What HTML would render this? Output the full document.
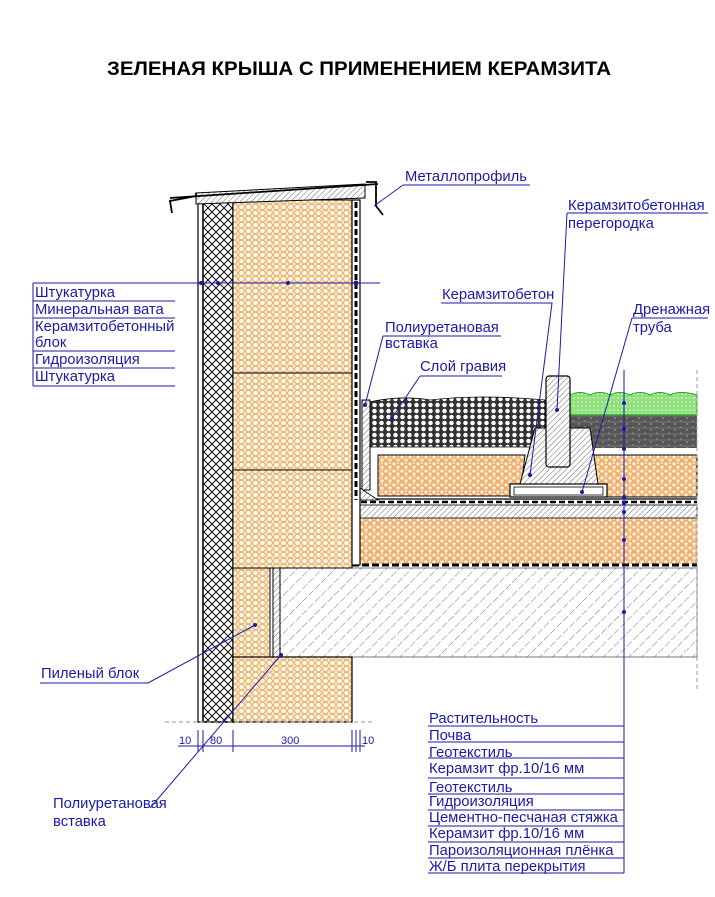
<!DOCTYPE html>
<html><head><meta charset="utf-8"><style>
html,body{margin:0;padding:0;background:#fff;}
svg{display:block;}
text{font-family:"Liberation Sans","DejaVu Sans",sans-serif;}
.b{fill:#1a1aa8;font-size:14.8px;}
.l{stroke:#1a1aa8;stroke-width:1;fill:none;}
</style></head><body>
<svg width="715" height="897" viewBox="0 0 715 897" xmlns="http://www.w3.org/2000/svg">
<defs>
<pattern id="hc" width="7" height="6" patternUnits="userSpaceOnUse">
<rect width="7" height="6" fill="#fbe7c6"/>
<circle cx="3.5" cy="3" r="2.8" fill="#fff7ea" stroke="#e0a050" stroke-width="0.8"/>
</pattern>
<pattern id="kz" width="8" height="7" patternUnits="userSpaceOnUse">
<rect width="8" height="7" fill="#eeb070"/>
<circle cx="2" cy="2" r="1.6" fill="#fff3df"/>
<circle cx="6" cy="5" r="1.8" fill="#fde8c8"/>
<circle cx="6" cy="1" r="0.8" fill="#fff"/>
</pattern>
<pattern id="cross" width="8" height="8" patternUnits="userSpaceOnUse">
<rect width="8" height="8" fill="#fff"/>
<path d="M0 0L8 8M8 0L0 8" stroke="#111" stroke-width="1"/>
</pattern>
<pattern id="hatch" width="9" height="9" patternUnits="userSpaceOnUse" patternTransform="rotate(45)">
<rect width="9" height="9" fill="#fff"/>
<line x1="0" y1="0" x2="0" y2="9" stroke="#555" stroke-width="0.8" stroke-dasharray="5 2"/>
</pattern>
<pattern id="hatch2" width="4" height="4" patternUnits="userSpaceOnUse" patternTransform="rotate(45)">
<rect width="4" height="4" fill="#fff"/>
<line x1="0" y1="0" x2="0" y2="4" stroke="#444" stroke-width="0.8"/>
</pattern>
<pattern id="grav" width="7" height="6" patternUnits="userSpaceOnUse">
<rect width="7" height="6" fill="#333"/>
<circle cx="3.5" cy="3" r="2.6" fill="#fff" stroke="#222" stroke-width="0.6"/>
</pattern>
<pattern id="soil" width="12" height="6" patternUnits="userSpaceOnUse">
<rect width="12" height="6" fill="#555"/>
<line x1="0" y1="2" x2="12" y2="2" stroke="#888" stroke-width="0.6"/>
<circle cx="3" cy="4" r="0.6" fill="#ddd"/><circle cx="9" cy="1" r="0.5" fill="#ddd"/>
</pattern>
<pattern id="veg" width="4" height="4" patternUnits="userSpaceOnUse">
<rect width="4" height="4" fill="#8ee07a"/>
<circle cx="2" cy="2" r="1" fill="#c8f0b8"/>
</pattern>
</defs>

<text x="107" y="75" textLength="504" lengthAdjust="spacingAndGlyphs" font-size="19.5" font-weight="bold" fill="#000">ЗЕЛЕНАЯ КРЫША С ПРИМЕНЕНИЕМ КЕРАМЗИТА</text>

<!-- slab -->
<rect x="280" y="568" width="417" height="89" fill="url(#hatch)" stroke="#555" stroke-width="0.8"/>
<!-- lower keramzit -->
<rect x="352" y="518" width="345" height="46" fill="url(#kz)"/>
<line x1="352" y1="565" x2="697" y2="565" stroke="#000" stroke-width="3" stroke-dasharray="7 3"/>
<!-- screed -->
<rect x="352" y="505" width="345" height="13" fill="url(#hatch2)" stroke="#000" stroke-width="0.8"/>
<line x1="352" y1="502" x2="697" y2="502" stroke="#000" stroke-width="2.5" stroke-dasharray="6 3"/>
<!-- upper keramzit -->
<path d="M378 455 H525 L520 496 H378 Z" fill="url(#kz)" stroke="#000" stroke-width="1"/>
<rect x="593" y="455" width="104" height="42" fill="url(#kz)" stroke="#000" stroke-width="1"/>
<line x1="370" y1="499" x2="697" y2="499" stroke="#000" stroke-width="1.2"/>
<!-- corner gravel & PU vertical -->
<rect x="362" y="400" width="8" height="90" fill="url(#hatch2)" stroke="#000"/>
<path d="M360 488 L378 500 L360 500Z" fill="url(#hatch2)" stroke="#000" stroke-width="0.8"/>
<path d="M370 402 Q400 395 430 400 Q480 394 545 400 L545 447 L370 447Z" fill="url(#grav)" stroke="#000" stroke-width="0.8"/>
<!-- soil, veg -->
<rect x="570" y="415" width="127" height="33" fill="url(#soil)"/>
<path d="M570 395 Q580 390 590 395 Q600 390 610 395 Q620 390 630 395 Q640 390 650 395 Q660 390 670 395 Q680 390 697 395 V415 H570Z" fill="url(#veg)" stroke="#2ca02c" stroke-width="1"/>
<line x1="570" y1="415" x2="697" y2="415" stroke="#2ca02c" stroke-width="1.5"/>
<!-- foot & partition -->
<path d="M535 428 L590 428 L598 484 L520 484 Z" fill="url(#hatch2)" stroke="#000" stroke-width="1"/>
<rect x="546" y="376" width="24" height="91" rx="3" fill="url(#hatch2)" stroke="#000" stroke-width="1.2"/>
<rect x="510" y="484" width="97" height="13" fill="#fff" stroke="#000" stroke-width="1.2"/>
<rect x="514" y="487" width="89" height="8" fill="#fff" stroke="#000" stroke-width="0.8"/>

<!-- wall -->
<rect x="198" y="200" width="5" height="522" fill="#fff" stroke="#000" stroke-width="1.2"/>
<rect x="203" y="200" width="30" height="522" fill="url(#cross)" stroke="#000" stroke-width="1.5"/>
<rect x="233" y="200" width="119" height="368" fill="url(#hc)" stroke="#000" stroke-width="1"/>
<rect x="233" y="568" width="37" height="89" fill="url(#hc)" stroke="#000" stroke-width="1"/>
<rect x="273" y="568" width="7" height="89" fill="url(#hatch2)" stroke="#000" stroke-width="1"/>
<rect x="233" y="657" width="119" height="65" fill="url(#hc)" stroke="#000" stroke-width="1.2"/>
<g stroke="#000" stroke-width="1"><line x1="233" y1="283" x2="352" y2="283"/><line x1="233" y1="373" x2="352" y2="373"/><line x1="233" y1="470" x2="352" y2="470"/></g>
<rect x="352" y="200" width="8" height="365" fill="#fff" stroke="#000" stroke-width="1.2"/>
<line x1="356" y1="202" x2="356" y2="500" stroke="#000" stroke-width="3" stroke-dasharray="6 3"/>
<!-- cap -->
<path d="M196 193 L365 184 L365 198 L196 204Z" fill="url(#hatch2)" stroke="#000"/>
<path d="M172 213 L170 201 L196 196 L196 193 M366 182 L376 182 L376 206 L383 215" fill="none" stroke="#000" stroke-width="1.8"/>
<path d="M170 198 L378 184" stroke="#000" stroke-width="1.8"/>
<!-- dashed ground lines -->
<line x1="165" y1="722" x2="375" y2="722" stroke="#999" stroke-dasharray="4 3"/>
<line x1="697" y1="370" x2="697" y2="690" stroke="#999" stroke-dasharray="4 3"/>

<!-- left labels -->
<path class="l" d="M33 283 H380 M33 283 V386 M33 301 H175 M33 318 H175 M33 351 H175 M33 368 H175 M33 386 H175"/>
<g fill="#1a1aa8"><circle cx="201" cy="283" r="2"/><circle cx="218" cy="283" r="2"/><circle cx="288" cy="283" r="2"/><circle cx="356" cy="283" r="2.5"/></g>
<text class="b" x="35" y="297">Штукатурка</text>
<text class="b" x="35" y="314">Минеральная вата</text>
<text class="b" x="35" y="331">Керамзитобетонный</text>
<text class="b" x="35" y="347">блок</text>
<text class="b" x="35" y="364">Гидроизоляция</text>
<text class="b" x="35" y="381">Штукатурка</text>

<!-- top callouts -->
<path class="l" d="M403 185 H530 M403 185 L374 206"/>
<text class="b" x="405" y="181">Металлопрофиль</text>
<path class="l" d="M567 213 H708 M567 213 L557 410"/>
<text class="b" x="568" y="210">Керамзитобетонная</text>
<text class="b" x="568" y="228">перегородка</text>
<path class="l" d="M441 303 H552 L530 475"/>
<text class="b" x="442" y="299">Керамзитобетон</text>
<path class="l" d="M632 318 H708 M632 318 L582 492"/>
<text class="b" x="633" y="314">Дренажная</text>
<text class="b" x="633" y="332">труба</text>
<path class="l" d="M383 336 H501 M383 336 L365 405"/>
<text class="b" x="385" y="332">Полиуретановая</text>
<text class="b" x="385" y="348">вставка</text>
<path class="l" d="M420 376 H502 M420 376 L392 418"/>
<text class="b" x="420" y="371">Слой гравия</text>
<g fill="#1a1aa8"><circle cx="557" cy="410" r="2"/><circle cx="530" cy="475" r="2"/><circle cx="582" cy="492" r="2"/><circle cx="365" cy="405" r="2"/><circle cx="392" cy="418" r="2"/></g>

<!-- vertical dim line -->
<line x1="624" y1="370" x2="624" y2="873" class="l"/>
<g fill="#1a1aa8"><circle cx="624" cy="403" r="2"/><circle cx="624" cy="429" r="2"/><circle cx="624" cy="449" r="2"/><circle cx="624" cy="479" r="2"/><circle cx="624" cy="497" r="2"/><circle cx="624" cy="503" r="2"/><circle cx="624" cy="512" r="2"/><circle cx="624" cy="540" r="2"/><circle cx="624" cy="612" r="2"/></g>

<!-- bottom right labels -->
<path class="l" d="M428 726 H624 M428 742 H624 M428 758 H624 M428 778 H624 M428 794 H624 M428 810 H624 M428 826 H624 M428 842 H624 M428 858 H624 M428 873 H624"/>
<text class="b" x="429" y="723">Растительность</text>
<text class="b" x="429" y="740">Почва</text>
<text class="b" x="429" y="757">Геотекстиль</text>
<text class="b" x="429" y="773">Керамзит фр.10/16 мм</text>
<text class="b" x="429" y="792">Геотекстиль</text>
<text class="b" x="429" y="806">Гидроизоляция</text>
<text class="b" x="429" y="822">Цементно-песчаная стяжка</text>
<text class="b" x="429" y="838">Керамзит фр.10/16 мм</text>
<text class="b" x="429" y="855">Пароизоляционная плёнка</text>
<text class="b" x="429" y="871">Ж/Б плита перекрытия</text>

<!-- lower left callouts -->
<path class="l" d="M40 683 H148 L255 625"/>
<text class="b" x="41" y="678">Пиленый блок</text>
<circle cx="255" cy="625" r="2" fill="#1a1aa8"/>
<path class="l" d="M150 808 L281 655"/>
<circle cx="281" cy="655" r="2" fill="#1a1aa8"/>
<text class="b" x="53" y="808">Полиуретановая</text>
<text class="b" x="53" y="826">вставка</text>

<!-- dimensions -->
<path class="l" d="M178 746 H365 M198 730 V752 M203 730 V752 M233 730 V752 M352 730 V752 M356 730 V752 M360 730 V752"/>
<g font-size="11" fill="#1a1aa8"><text x="179" y="744">10</text><text x="210" y="744">80</text><text x="281" y="744">300</text><text x="362" y="744">10</text></g>
</svg>
</body></html>
